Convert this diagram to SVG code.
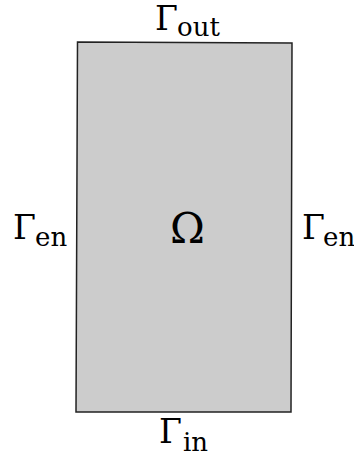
<svg xmlns="http://www.w3.org/2000/svg" width="354" height="456" viewBox="0 0 354 456">
<style>
.g{font-family:"DejaVu Serif",serif;font-size:33px;fill:#000}
.s{font-family:"DejaVu Serif",serif;font-size:26px;fill:#000}
.o{font-family:"DejaVu Serif",serif;font-size:42px;fill:#000}
</style>
<rect width="354" height="456" fill="#fff"/>
<g id="domain">
<polygon points="77.5,42 292,43 291,412 76,412" fill="#cccccc" stroke="#222" stroke-width="1.5"/>
<text class="o" x="187.5" y="243" text-anchor="middle">Ω</text>
</g>
<g id="gamma-out"><text class="g" x="155" y="30">Γ</text><text class="s" x="177" y="36">out</text></g>
<g id="gamma-in"><text class="g" x="159" y="443">Γ</text><text class="s" x="183" y="451">in</text></g>
<g id="gamma-en-left"><text class="g" x="13" y="239">Γ</text><text class="s" x="35" y="246">en</text></g>
<g id="gamma-en-right"><text class="g" x="302" y="239">Γ</text><text class="s" x="323" y="246">en</text></g>
</svg>
